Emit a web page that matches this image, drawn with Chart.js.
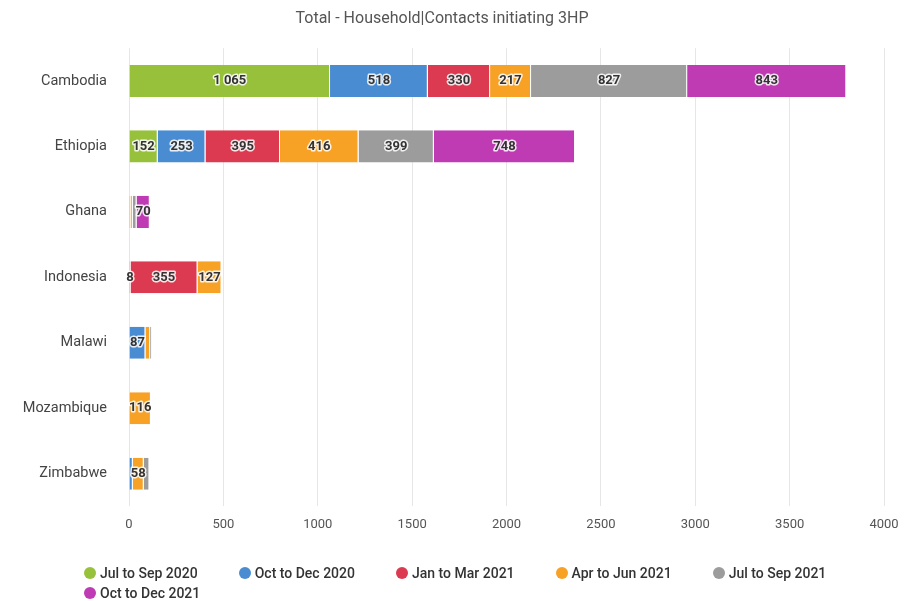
<!DOCTYPE html>
<html>
<head>
<meta charset="utf-8">
<script src="https://cdn.jsdelivr.net/npm/chart.js@4.4.1/dist/chart.umd.min.js"></script>
<style>
  html, body { margin: 0; padding: 0; background: #fff; }
  #wrap { position: relative; width: 910px; height: 601px; }
  #legend {
    position: absolute; left: 84px; top: 564px; width: 790px;
    font-family: Roboto, "Noto Sans", sans-serif; font-size: 14px; font-weight: 500; color: #333;
    display: flex; flex-wrap: wrap; column-gap: 41px; row-gap: 2px;
  }
  #legend span.item { display: inline-flex; align-items: center; white-space: nowrap; line-height: 18px; }
  #legend span.dot { width: 12px; height: 12px; border-radius: 50%; margin-right: 4px; display: inline-block; }
</style>
</head>
<body>
<div id="wrap">
  <canvas id="chartBar" width="910" height="601"></canvas>
  <div id="legend"></div>
</div>
<script>
// Negara
const countries = ['Cambodia', 'Ethiopia', 'Ghana', 'Indonesia', 'Malawi', 'Mozambique', 'Zimbabwe'];
// Periode (seri)
const periods = ['Jul to Sep 2020', 'Oct to Dec 2020', 'Jan to Mar 2021', 'Apr to Jun 2021', 'Jul to Sep 2021', 'Oct to Dec 2021'];
const colors = ['#97c13a', '#4a8cd2', '#dc3a50', '#f7a125', '#9c9c9c', '#bf3bb4'];
// Nilai per periode, urutan sesuai countries
const julSep2020 = [1065, 152, 8, 8, 0, 0, 0];
const octDec2020 = [518, 253, 0, 0, 87, 0, 20];
const janMar2021 = [330, 395, 0, 355, 0, 0, 0];
const aprJun2021 = [217, 416, 12, 127, 25, 116, 58];
const julSep2021 = [827, 399, 20, 0, 10, 0, 30];
const octDec2021 = [843, 748, 70, 0, 0, 0, 0];
const xTicks = [0, 500, 1000, 1500, 2000, 2500, 3000, 3500, 4000];

const seriesValues = [julSep2020, octDec2020, janMar2021, aprJun2021, julSep2021, octDec2021];

const datasets = periods.map((p, i) => ({
    label: p,
    data: seriesValues[i],
    backgroundColor: colors[i],
    borderColor: '#ffffff',
    borderWidth: { left: 0, right: 1, top: 0, bottom: 0 },
    borderSkipped: false
}));

function fmt(v) {
    return String(v).replace(/\B(?=(\d{3})+(?!\d))/g, ' ');
}

// Label di tengah segmen, sembunyikan yang bertabrakan (nilai besar menang)
const segmentLabels = {
    id: 'segmentLabels',
    afterDatasetsDraw(chart) {
        const { ctx } = chart;
        const pad = 4;
        ctx.save();
        ctx.font = 'bold 13px Roboto, sans-serif';
        ctx.textAlign = 'center';
        ctx.textBaseline = 'middle';
        ctx.lineJoin = 'round';
        countries.forEach((c, ci) => {
            const items = [];
            chart.data.datasets.forEach((ds, di) => {
                const v = ds.data[ci];
                if (!v) return;
                const bar = chart.getDatasetMeta(di).data[ci];
                const cx = (bar.x + bar.base) / 2;
                const w = ctx.measureText(fmt(v)).width;
                items.push({ v, cx, y: bar.y, w });
            });
            items.sort((a, b) => b.v - a.v);
            const placed = [];
            items.forEach(it => {
                const l = it.cx - it.w / 2 - pad, r = it.cx + it.w / 2 + pad;
                if (placed.some(p => l < p.r && r > p.l)) return;
                placed.push({ l, r });
                ctx.lineWidth = 3;
                ctx.strokeStyle = 'rgba(255,255,255,0.85)';
                ctx.strokeText(fmt(it.v), it.cx, it.y);
                ctx.fillStyle = '#333';
                ctx.fillText(fmt(it.v), it.cx, it.y);
            });
        });
        ctx.restore();
    }
};

const ctxBar = document.getElementById('chartBar').getContext('2d');
const barChart = new Chart(ctxBar, {
    type: 'bar',
    data: { labels: countries, datasets: datasets },
    options: {
        indexAxis: 'y',
        responsive: false,
        animation: false,
        layout: { padding: { left: 0, right: 26, top: 0, bottom: 57 } },
        datasets: { bar: { categoryPercentage: 1, barPercentage: 0.49 } },
        plugins: {
            legend: { display: false },
            tooltip: { enabled: false },
            title: {
                display: true,
                text: 'Total - Household|Contacts initiating 3HP',
                color: '#555',
                font: { family: 'Roboto', size: 16, weight: 'normal' },
                padding: { top: 9, bottom: 20 }
            }
        },
        scales: {
            x: {
                stacked: true,
                min: 0,
                max: 4000,
                afterBuildTicks: (scale) => { scale.ticks = xTicks.map(v => ({ value: v })); },
                grid: { color: '#e6e6e6', drawTicks: false },
                border: { display: false },
                ticks: {
                    color: '#555',
                    font: { family: 'Roboto', size: 13 },
                    padding: 11,
                    callback: (v) => String(v)
                }
            },
            y: {
                stacked: true,
                grid: { display: false },
                border: { display: false },
                afterFit: (scale) => { scale.width = 129; },
                ticks: { color: '#444', font: { family: 'Roboto', size: 14.5 }, padding: 14 }
            }
        }
    },
    plugins: [segmentLabels]
});

// Legend HTML
const legendEl = document.getElementById('legend');
periods.forEach((p, i) => {
    const item = document.createElement('span');
    item.className = 'item';
    item.innerHTML = '<span class="dot" style="background:' + colors[i] + '"></span>' + p;
    legendEl.appendChild(item);
});
</script>
</body>
</html>
